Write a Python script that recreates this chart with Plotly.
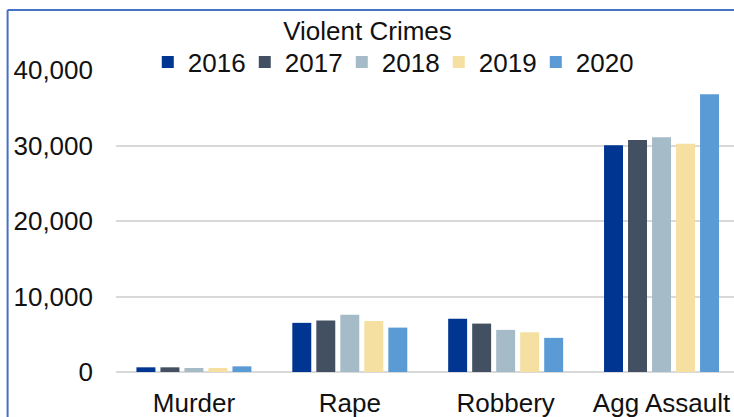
import plotly.graph_objects as go

categories = ["Murder", "Rape", "Robbery", "Agg Assault"]
years = ["2016", "2017", "2018", "2019", "2020"]
v2016 = [620, 6510, 7040, 30030]
v2017 = [620, 6810, 6410, 30730]
v2018 = [530, 7570, 5580, 31090]
v2019 = [530, 6770, 5260, 30240]
v2020 = [750, 5880, 4520, 36780]
series = [v2016, v2017, v2018, v2019, v2020]
colors = ["#003591", "#435062", "#A6BBC8", "#F5E0A2", "#5B9BD5"]
y_ticks = [0, 10000, 20000, 30000, 40000]
y_tick_labels = ["0", "10,000", "20,000", "30,000", "40,000"]

FONT = "Liberation Sans, Arial, sans-serif"
FS = 26
TXT = "#111111"

fig = go.Figure()
for name, vals, col in zip(years, series, colors):
    fig.add_trace(go.Bar(name=name, x=categories, y=vals, marker=dict(color=col, line=dict(width=0))))

W, H = 734, 417
L, T, B = 115.5, 70, 45
plot_w = W - L
plot_h = H - T - B

def px_x(p):
    return (p - L) / plot_w

def px_y(p):
    return (H - B - p) / plot_h

fig.update_layout(
    width=W, height=H,
    margin=dict(l=L, r=0, t=T, b=B, pad=0),
    paper_bgcolor="white", plot_bgcolor="white",
    font=dict(family=FONT, size=FS, color=TXT),
    barmode="group", bargap=0.23, bargroupgap=0.21,
    title=dict(text="Violent Crimes", x=367.5 / W, xref="container", xanchor="center",
               y=1 - 31 / H, yref="container", yanchor="middle",
               font=dict(family=FONT, size=FS, color=TXT)),
    legend=dict(orientation="h", x=px_x(390), xanchor="center", y=px_y(62), yanchor="middle",
                font=dict(family=FONT, size=FS, color=TXT), bgcolor="rgba(0,0,0,0)",
                entrywidth=52, entrywidthmode="pixels", traceorder="normal"),
    xaxis=dict(range=[-0.5, 3.465], showgrid=False, showline=False, zeroline=False,
               ticks="", ticklabelstandoff=13, tickfont=dict(family=FONT, size=FS, color=TXT)),
    yaxis=dict(range=[0, 40000], tickvals=y_ticks, ticktext=y_tick_labels,
               showgrid=True, gridcolor="#D9D9D9", gridwidth=2, zeroline=True,
               zerolinecolor="#D9D9D9", zerolinewidth=2, showline=False, ticks="",
               ticklabelstandoff=22, tickfont=dict(family=FONT, size=FS, color=TXT)),
    shapes=[
        dict(type="line", xref="paper", yref="paper", x0=px_x(7), x1=px_x(7), y0=px_y(10), y1=px_y(420),
             line=dict(color="#4472C4", width=2)),
        dict(type="line", xref="paper", yref="paper", x0=px_x(7), x1=px_x(740), y0=px_y(10), y1=px_y(10),
             line=dict(color="#4472C4", width=2)),
    ],
)

fig.write_html("out.html", config={"displayModeBar": False},
               post_script="document.body.style.margin='0';document.body.style.overflow='hidden';")
